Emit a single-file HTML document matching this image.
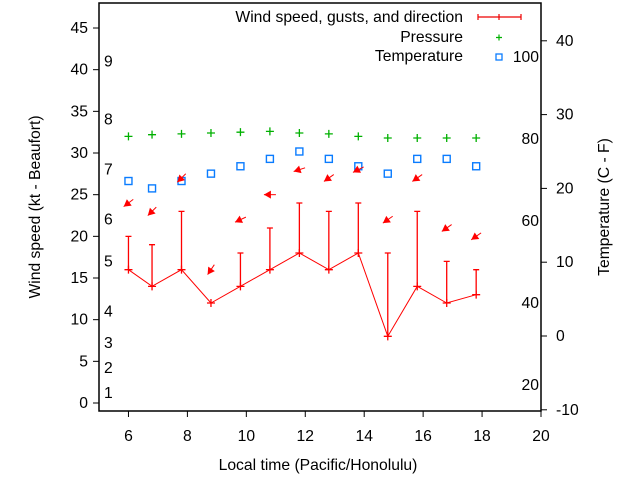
<!DOCTYPE html>
<html><head><meta charset="utf-8"><style>
body{margin:0;background:#fff;}
svg text{font-family:"Liberation Sans",sans-serif;font-size:15.7px;fill:#000;}
</style></head><body>
<svg id="c" width="640" height="480" xmlns="http://www.w3.org/2000/svg">
</svg>
<script>
const hours=[6,6.8,7.8,8.8,9.8,10.8,11.8,12.8,13.8,14.8,15.8,16.8,17.8];
const speed=[16,14,16,12,14,16,18,16,18,8,14,12,13];
const gust=[20,19,23,12,18,21,24,23,24,18,23,17,16];
const direction=[53,45,45,34,65,90,72,55,63,55,55,55,55];
const pressure=[32.0,32.2,32.3,32.4,32.5,32.6,32.4,32.3,32.0,31.8,31.8,31.8,31.8];
const tempC=[21,20,21,22,23,24,25,24,23,22,24,24,23];
const xTicks=[6,8,10,12,14,16,18,20];
const yTicks=[0,5,10,15,20,25,30,35,40,45];
const cTicks=[-10,0,10,20,30,40];
const fTicks=[20,40,60,80,100];
const beaufort=[[1,1.2],[2,4.2],[3,7.2],[4,11],[5,17],[6,22],[7,28],[8,34],[9,41]];

const L=99,R=541,T=3,B=411;
const X=v=>L+(v-5)/15*(R-L);
const Y=v=>403-v*8.333;
const YC=c=>336-c*7.38;
const YF=f=>YC((f-32)*5/9);
const svg=document.getElementById('c');
const NS='http://www.w3.org/2000/svg';
function mk(tag,attrs,name,parent){
  const e=document.createElementNS(NS,tag);
  for(const k in attrs)e.setAttribute(k,attrs[k]);
  
  
  (parent||svg).appendChild(e);return e;
}
function txt(x,y,s,anchor,name,extra){
  const t=mk('text',Object.assign({x:x,y:y,'text-anchor':anchor||'middle'},extra||{}),name);
  t.textContent=s;return t;
}
mk('rect',{x:L,y:T,width:R-L,height:B-T,fill:'none',stroke:'#000','stroke-width':1.5},'plot-frame');
xTicks.forEach(v=>{
  mk('line',{x1:X(v),y1:B,x2:X(v),y2:B+6,stroke:'#000'},'x-tick');
  txt(X(v),441,String(v),'middle','x-tick-label');
});
yTicks.forEach(v=>{
  mk('line',{x1:L-6,y1:Y(v),x2:L,y2:Y(v),stroke:'#000'},'y-tick');
  txt(L-11,Y(v)+5,String(v),'end','y-tick-label');
});
cTicks.forEach(v=>{
  mk('line',{x1:R,y1:YC(v),x2:R+6,y2:YC(v),stroke:'#000'},'celsius-tick');
  txt(556,YC(v)+5,String(v),'start','celsius-tick-label');
});
fTicks.forEach(v=>{
  txt(539,YF(v)+5,String(v),'end','fahrenheit-tick-label');
});
beaufort.forEach(b=>{
  txt(104,Y(b[1])+5,String(b[0]),'start','beaufort-label');
});
txt(318,470,'Local time (Pacific/Honolulu)','middle','x-axis-title');
txt(40,207,'Wind speed (kt - Beaufort)','middle','y-axis-title',{transform:'rotate(-90 40 207)'});
txt(609,207,'Temperature (C - F)','middle','right-axis-title',{transform:'rotate(-90 609 207)'});
pressure.forEach((p,i)=>{
  const x=X(hours[i]),y=Y(p);
  mk('path',{d:`M${x-4},${y}H${x+4}M${x},${y-4}V${y+4}`,stroke:'#00b000','stroke-width':1.3},'pressure-point');
});
tempC.forEach((c,i)=>{
  mk('rect',{x:X(hours[i])-3.5,y:YC(c)-3.5,width:7,height:7,fill:'none',stroke:'#0a7cff','stroke-width':1.4},'temperature-point');
});
mk('polyline',{points:speed.map((s,i)=>X(hours[i])+','+Y(s)).join(' '),fill:'none',stroke:'#f00','stroke-width':1},'wind-speed-line');
speed.forEach((s,i)=>{
  const x=X(hours[i]);
  mk('path',{d:`M${x-4},${Y(s)}H${x+4}M${x},${Y(s)-4}V${Y(s)+4}`,stroke:'#f00','stroke-width':1.3},'wind-speed-point');
  if(gust[i]>s){
    mk('path',{d:`M${x},${Y(s)}V${Y(gust[i])}M${x-3},${Y(gust[i])}H${x+3}`,stroke:'#f00','stroke-width':1.3},'gust-bar');
  }
  const cx=x,cy=Y(gust[i]+4),a=(direction[i]+180)*Math.PI/180,Ln=12;
  const dx=Math.sin(a)*Ln,dy=-Math.cos(a)*Ln;
  const hx=cx+dx/2,hy=cy+dy/2,tx=cx-dx/2,ty=cy-dy/2;
  const ux=dx/Ln,uy=dy/Ln;
  const bx=hx-ux*7,by=hy-uy*7;
  mk('line',{x1:tx,y1:ty,x2:hx,y2:hy,stroke:'#f00','stroke-width':1},'direction-arrow-shaft');
  mk('polygon',{points:`${hx},${hy} ${bx-uy*4},${by+ux*4} ${bx+uy*4},${by-ux*4}`,fill:'#f00'},'direction-arrow-head');
});
txt(463,22,'Wind speed, gusts, and direction','end','legend-wind-label');
mk('path',{d:'M478,17H521M478,14V20M521,14V20M499,14V20',stroke:'#e00','stroke-width':1.2},'legend-wind-key');
txt(463,42,'Pressure','end','legend-pressure-label');
mk('path',{d:'M496,37.5H502M499,34.5V40.5',stroke:'#00b000','stroke-width':1.2},'legend-pressure-key');
txt(463,61,'Temperature','end','legend-temperature-label');
mk('rect',{x:496,y:54,width:6,height:6,fill:'none',stroke:'#0a7cff','stroke-width':1.3},'legend-temperature-key');
</script>
</body></html>
